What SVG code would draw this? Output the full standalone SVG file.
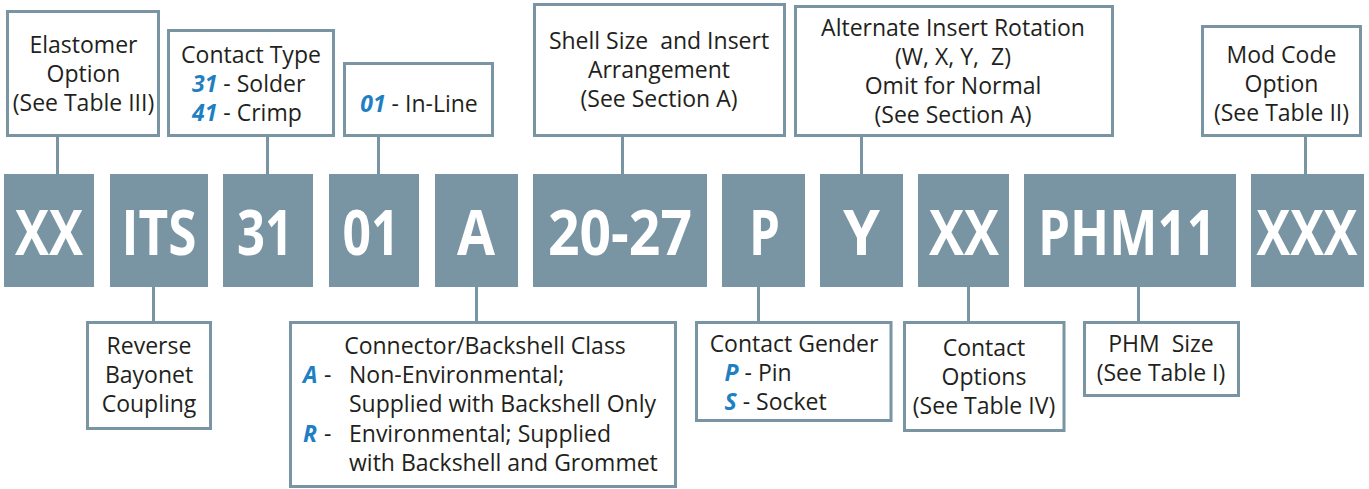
<svg xmlns="http://www.w3.org/2000/svg" width="1369" height="489" viewBox="0 0 1369 489">
<style>
.blk{fill:#7995a3}
.box{fill:#fff;stroke:#7995a3;stroke-width:3}
.ln{stroke:#7995a3;stroke-width:3;fill:none}
.code{font-family:"Open Sans","Liberation Sans",sans-serif;font-weight:700;font-size:63px;fill:#fff;text-anchor:middle}
.lbl{font-family:"Open Sans","Liberation Sans",sans-serif;font-size:23px;fill:#231f20;white-space:pre}
.c{text-anchor:middle}
.b{fill:#1f7fc2;font-weight:700;font-style:italic}
</style>
<rect width="1369" height="489" fill="#fff"/>
<g id="connectors">
<line class="ln" x1="57.5" y1="137" x2="57.5" y2="175"/>
<line class="ln" x1="267.5" y1="137" x2="267.5" y2="175"/>
<line class="ln" x1="378.5" y1="137" x2="378.5" y2="175"/>
<line class="ln" x1="622.5" y1="137" x2="622.5" y2="175"/>
<line class="ln" x1="861.5" y1="137" x2="861.5" y2="175"/>
<line class="ln" x1="1305.5" y1="137" x2="1305.5" y2="175"/>
<line class="ln" x1="153.5" y1="286" x2="153.5" y2="322"/>
<line class="ln" x1="476.5" y1="286" x2="476.5" y2="322"/>
<line class="ln" x1="758.5" y1="286" x2="758.5" y2="322"/>
<line class="ln" x1="968.5" y1="286" x2="968.5" y2="322"/>
<line class="ln" x1="1138.5" y1="286" x2="1138.5" y2="322"/>
</g>
<g id="code-xx"><rect class="blk" x="4" y="174" width="90" height="113"/><text class="code" x="49" y="255" textLength="68" lengthAdjust="spacingAndGlyphs">XX</text></g>
<g id="code-its"><rect class="blk" x="110" y="174" width="98" height="113"/><text class="code" x="159" y="255" textLength="75" lengthAdjust="spacingAndGlyphs">ITS</text></g>
<g id="code-31"><rect class="blk" x="223" y="174" width="90" height="113"/><text class="code" x="265" y="255" textLength="56" lengthAdjust="spacingAndGlyphs">31</text></g>
<g id="code-01"><rect class="blk" x="329" y="174" width="90" height="113"/><text class="code" x="371" y="255" textLength="57" lengthAdjust="spacingAndGlyphs">01</text></g>
<g id="code-a"><rect class="blk" x="435" y="174" width="83" height="113"/><text class="code" x="476" y="255" textLength="38" lengthAdjust="spacingAndGlyphs">A</text></g>
<g id="code-2027"><rect class="blk" x="533" y="174" width="174" height="113"/><text class="code" x="620" y="255" textLength="144" lengthAdjust="spacingAndGlyphs">20-27</text></g>
<g id="code-p"><rect class="blk" x="722" y="174" width="83" height="113"/><text class="code" x="764.5" y="255" textLength="31" lengthAdjust="spacingAndGlyphs">P</text></g>
<g id="code-y"><rect class="blk" x="820" y="174" width="83" height="113"/><text class="code" x="861.5" y="255" textLength="37" lengthAdjust="spacingAndGlyphs">Y</text></g>
<g id="code-xx2"><rect class="blk" x="918" y="174" width="91" height="113"/><text class="code" x="964" y="255" textLength="70" lengthAdjust="spacingAndGlyphs">XX</text></g>
<g id="code-phm11"><rect class="blk" x="1024" y="174" width="212" height="113"/><text class="code" x="1127" y="255" textLength="178" lengthAdjust="spacingAndGlyphs">PHM11</text></g>
<g id="code-xxx"><rect class="blk" x="1251" y="174" width="113" height="113"/><text class="code" transform="translate(1307,255) scale(0.82,1)" x="0" y="0" textLength="123" lengthAdjust="spacingAndGlyphs">XXX</text></g>
<g id="elastomer"><rect class="box" x="7.5" y="11.5" width="151" height="124"/>
<text class="lbl c" x="83.5" y="53">Elastomer</text><text class="lbl c" x="83.5" y="82">Option</text><text class="lbl c" x="83.5" y="111">(See Table III)</text></g>
<g id="contact-type"><rect class="box" x="168.5" y="30.5" width="165" height="105"/>
<text class="lbl c" x="251" y="63">Contact Type</text>
<text class="lbl" x="192" y="92"><tspan class="b">31</tspan> - Solder</text>
<text class="lbl" x="192" y="121"><tspan class="b">41</tspan> - Crimp</text></g>
<g id="inline"><rect class="box" x="344.5" y="63.5" width="148" height="72"/>
<text class="lbl c" x="419" y="112"><tspan class="b">01</tspan> - In-Line</text></g>
<g id="shell-size"><rect class="box" x="534.5" y="4.5" width="250" height="131"/>
<text class="lbl c" x="659" y="49">Shell Size  and Insert</text><text class="lbl c" x="659" y="78">Arrangement</text><text class="lbl c" x="659" y="107">(See Section A)</text></g>
<g id="rotation"><rect class="box" x="795.5" y="6.5" width="317" height="129"/>
<text class="lbl c" x="953" y="36">Alternate Insert Rotation</text><text class="lbl c" x="953" y="65">(W, X, Y,  Z)</text><text class="lbl c" x="953" y="94">Omit for Normal</text><text class="lbl c" x="953" y="123">(See Section A)</text></g>
<g id="mod-code"><rect class="box" x="1202.5" y="26.5" width="158" height="109"/>
<text class="lbl c" x="1281.5" y="63">Mod Code</text><text class="lbl c" x="1281.5" y="92">Option</text><text class="lbl c" x="1281.5" y="121">(See Table II)</text></g>
<g id="reverse"><rect class="box" x="87.5" y="322.5" width="123" height="106"/>
<text class="lbl c" x="149" y="354">Reverse</text><text class="lbl c" x="149" y="383">Bayonet</text><text class="lbl c" x="149" y="412">Coupling</text></g>
<g id="class"><rect class="box" x="290.5" y="322.5" width="385" height="164"/>
<text class="lbl c" x="485" y="354">Connector/Backshell Class</text>
<text class="lbl" x="303" y="383"><tspan class="b">A</tspan></text><text class="lbl" x="324" y="383">-</text><text class="lbl" x="349" y="383">Non-Environmental;</text>
<text class="lbl" x="349" y="412">Supplied with Backshell Only</text>
<text class="lbl" x="303" y="442"><tspan class="b">R</tspan></text><text class="lbl" x="324" y="442">-</text><text class="lbl" x="349" y="442">Environmental; Supplied</text>
<text class="lbl" x="349" y="471">with Backshell and Grommet</text></g>
<g id="gender"><rect class="box" x="696.5" y="322.5" width="194.5" height="98"/>
<text class="lbl c" x="794" y="352">Contact Gender</text>
<text class="lbl" x="724.5" y="381"><tspan class="b">P</tspan> - Pin</text>
<text class="lbl" x="724.5" y="410"><tspan class="b">S</tspan> - Socket</text></g>
<g id="options"><rect class="box" x="904.5" y="322.5" width="159.5" height="108"/>
<text class="lbl c" x="984" y="356">Contact</text><text class="lbl c" x="984" y="385">Options</text><text class="lbl c" x="984" y="414">(See Table IV)</text></g>
<g id="phm-size"><rect class="box" x="1084.5" y="322.5" width="154" height="73"/>
<text class="lbl c" x="1161" y="352">PHM  Size</text><text class="lbl c" x="1161" y="381">(See Table I)</text></g>
</svg>
